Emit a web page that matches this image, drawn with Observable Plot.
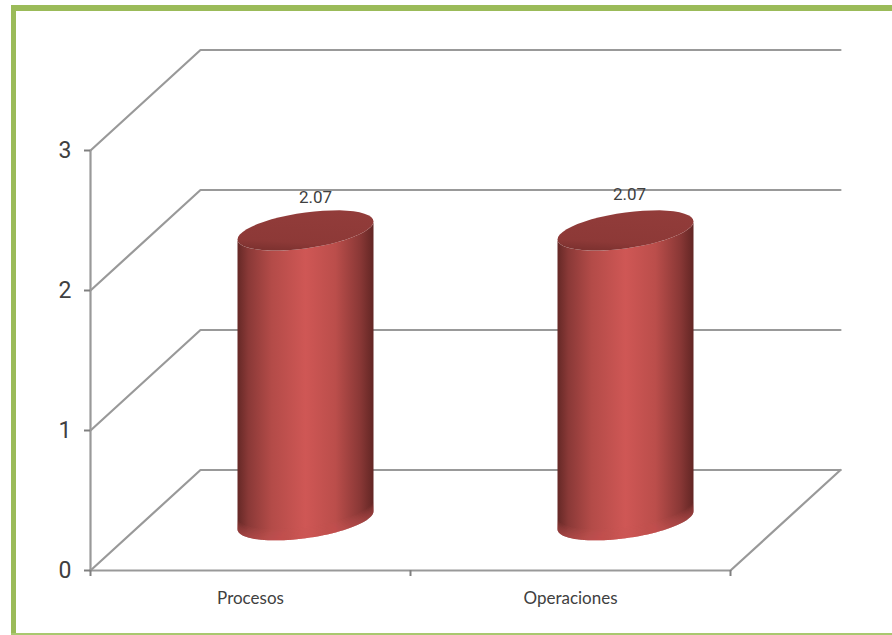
<!DOCTYPE html>
<html>
<head>
<meta charset="utf-8">
<script src="https://cdn.jsdelivr.net/npm/d3@7"></script>
<script src="https://cdn.jsdelivr.net/npm/@observablehq/plot@0.6"></script>
<style>
  html, body { margin: 0; padding: 0; background: #fff; }
  #frame {
    position: relative; width: 892px; height: 635px; overflow: hidden;
  }
  #frame .edge { position: absolute; background: #9bbb59; }
  #frame svg { position: absolute; left: 0; top: 0; background: transparent; }
</style>
</head>
<body>
<div id="frame">
  <div class="edge" style="left:11px;top:5px;width:881px;height:6px"></div>
  <div class="edge" style="left:11px;top:5px;width:5px;height:630px"></div>
  <div class="edge" style="left:11px;top:633px;width:881px;height:2px;background:#a9c86f"></div>
</div>
<script>
const categories = ["Procesos", "Operaciones"];
const values = [2.07, 2.07];
const yTicks = [0, 1, 2, 3];

// Oblique projection: one full unit of depth moves a point right and up, in data units.
const depthX = 110 / 320;
const depthY = 100.5 / 140;
const project = (x, y, d) => ({x: x + d * depthX, y: y + d * depthY});

// Walls and floor of the chart box.
const wallLines = yTicks.flatMap((v) => [
  {id: v, ...project(0, v, 0)},
  {id: v, ...project(0, v, 1)},
  {id: v, ...project(2, v, 1)}
]);
const floorEdge = [
  {...project(0, 0, 0)},
  {...project(2, 0, 0)},
  {...project(2, 0, 1)}
];
const leftEdge = [{...project(0, 0, 0)}, {...project(0, 3, 0)}];

// Cylinder cross-section: half width and the sheared ellipse terms, in data units.
const radiusX = 68 / 320;
const radiusSin = 18 / 140;
const radiusCos = 9 / 140;
const ring = (i, level, t) => {
  const c = project(i + 0.5, level, 0.5);
  return {
    id: i,
    x: c.x + radiusX * Math.cos(t),
    y: c.y + radiusCos * Math.cos(t) - radiusSin * Math.sin(t)
  };
};
const steps = d3.range(0, 49).map((k) => k / 48);

const bodies = values.flatMap((v, i) => [
  ...steps.map((s) => ring(i, 0, Math.PI - s * Math.PI)),
  ...steps.map((s) => ring(i, v, s * Math.PI))
]);
// Nested slivers along the lower edge build up a soft highlight.
const rimLevels = [0.01, 0.02, 0.03, 0.04, 0.05, 0.06, 0.07, 0.08];
const rims = values.flatMap((v, i) =>
  rimLevels.flatMap((lift) => [
    ...steps.map((s) => ({...ring(i, 0, Math.PI - s * Math.PI), id: `${i}-${lift}`})),
    ...steps.map((s) => ({...ring(i, lift, s * Math.PI), id: `${i}-${lift}`}))
  ])
);
const caps = values.flatMap((v, i) =>
  steps.map((s) => ring(i, v, s * 2 * Math.PI))
);

const labels = values.map((v, i) => ({
  ...project(i + 0.5, v, 0.5),
  text: v.toFixed(2)
}));

function gradients() {
  const defs = d3.create("svg:defs");
  const side = defs.append("linearGradient").attr("id", "cylinderSide");
  [
    [0, "#652826"], [0.08, "#8a3937"], [0.25, "#b34b48"], [0.5, "#cf5755"],
    [0.72, "#bb4e4b"], [0.9, "#8a3836"], [1, "#622624"]
  ].forEach(([o, c]) => side.append("stop").attr("offset", o).attr("stop-color", c));

  const cap = defs.append("linearGradient")
    .attr("id", "cylinderCap").attr("x1", 0.6).attr("x2", 0.4).attr("y1", 0).attr("y2", 1);
  cap.append("stop").attr("offset", 0).attr("stop-color", "#923c3a");
  cap.append("stop").attr("offset", 0.8).attr("stop-color", "#8d3937");
  cap.append("stop").attr("offset", 1).attr("stop-color", "#7e3230");
  return defs.node();
}

const gridStroke = {stroke: "#999999", strokeWidth: 2.2};
const digits = "Roboto, sans-serif";

const chart = Plot.plot({
  width: 892,
  height: 635,
  marginLeft: 90,
  marginRight: 162,
  marginTop: 150,
  marginBottom: 65,
  style: {fontFamily: "Lato, sans-serif", color: "#404040", background: "transparent"},
  x: {domain: [0, 2]},
  y: {domain: [0, 3]},
  marks: [
    gradients,
    Plot.line(wallLines, {x: "x", y: "y", z: "id", ...gridStroke}),
    Plot.line(floorEdge, {x: "x", y: "y", ...gridStroke}),
    Plot.line(leftEdge, {x: "x", y: "y", ...gridStroke}),
    Plot.axisY({
      ticks: yTicks, tickFormat: "d", label: null, tickSize: 6, tickPadding: 13,
      fontSize: 23, fontFamily: digits, stroke: "#808080", strokeWidth: 2, textStroke: "none"
    }),
    Plot.axisX({
      ticks: [0, 1, 2], tickFormat: () => "", label: null, tickSize: 6,
      stroke: "#808080", strokeWidth: 2
    }),
    Plot.axisX({
      ticks: [0.5, 1.5], tickFormat: (d) => categories[Math.floor(d)], label: null,
      tickSize: 0, tickPadding: 21, fontSize: 17
    }),
    Plot.line(bodies, {x: "x", y: "y", z: "id", fill: "url(#cylinderSide)", stroke: "none"}),
    Plot.line(rims, {x: "x", y: "y", z: "id", fill: "#cf5a57", fillOpacity: 0.08, stroke: "none"}),
    Plot.line(caps, {x: "x", y: "y", z: "id", fill: "url(#cylinderCap)", stroke: "none"}),
    Plot.text(labels.slice(0, 1), {x: "x", y: "y", text: "text", dx: 10, dy: -33, fontSize: 17, fontFamily: digits, fill: "#404040"}),
    Plot.text(labels.slice(1), {x: "x", y: "y", text: "text", dx: 4, dy: -36, fontSize: 17, fontFamily: digits, fill: "#404040"})
  ]
});
document.getElementById("frame").appendChild(chart);
</script>
</body>
</html>
